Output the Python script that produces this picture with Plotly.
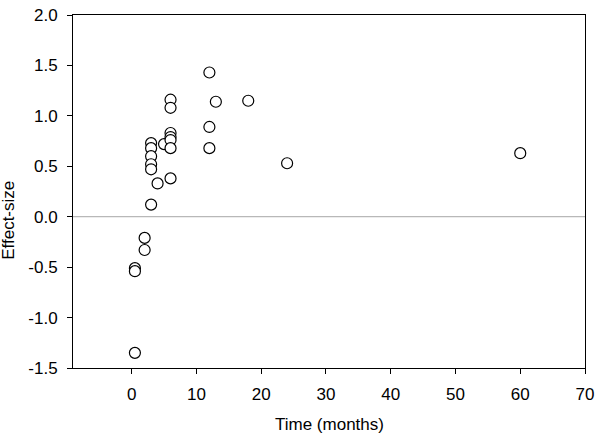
import plotly.graph_objects as go

# Data
time_months = [0.5, 0.5, 0.5, 2, 2,
               3, 3, 3, 3, 3, 3,
               4, 5,
               6, 6, 6, 6, 6, 6, 6,
               12, 12, 12, 13, 18, 24, 60]
effect_size = [-0.51, -0.54, -1.35, -0.21, -0.33,
               0.73, 0.68, 0.60, 0.52, 0.47, 0.12,
               0.33, 0.72,
               1.16, 1.08, 0.83, 0.79, 0.76, 0.68, 0.38,
               1.43, 0.89, 0.68, 1.14, 1.15, 0.53, 0.63]

x_ticks = [0, 10, 20, 30, 40, 50, 60, 70]
y_ticks = [-1.5, -1.0, -0.5, 0.0, 0.5, 1.0, 1.5, 2.0]
y_tick_labels = ["-1.5", "-1.0", "-0.5", "0.0", "0.5", "1.0", "1.5", "2.0"]
x_title = "Time (months)"
y_title = "Effect-size"

font_family = "Liberation Sans, Arial, sans-serif"

fig = go.Figure()
fig.add_trace(go.Scatter(
    x=time_months, y=effect_size, mode="markers",
    marker=dict(symbol="circle", size=11, color="white",
                line=dict(color="black", width=1.2)),
    showlegend=False, hoverinfo="x+y",
))

fig.add_shape(type="line", xref="paper", x0=0, x1=1, yref="y", y0=0, y1=0,
              line=dict(color="#a6a6a6", width=1), layer="below")

fig.update_layout(
    width=600, height=434,
    margin=dict(l=73, r=10, t=6, b=66),
    paper_bgcolor="white", plot_bgcolor="white",
    font=dict(family=font_family, size=17, color="black"),
    annotations=[
        dict(text=x_title, xref="paper", yref="paper", x=0.5, y=-0.160,
             xanchor="center", yanchor="middle", showarrow=False,
             font=dict(size=17)),
        dict(text=y_title, xref="paper", yref="paper", x=-0.125, y=0.417,
             xanchor="center", yanchor="middle", textangle=-90,
             showarrow=False, font=dict(size=17)),
    ],
)
fig.update_xaxes(
    range=[-9.06, 70], tickvals=x_ticks, ticks="outside", ticklen=5,
    tickcolor="black", showline=True, linecolor="black", linewidth=1,
    mirror=True, showgrid=False, zeroline=False,
    ticklabeloverflow="allow", ticklabelstandoff=6,
    tickfont=dict(size=17),
)
fig.update_yaxes(
    range=[-1.5, 2.0], tickvals=y_ticks, ticktext=y_tick_labels,
    ticks="outside",
    ticklen=5, tickcolor="black", showline=True, linecolor="black",
    linewidth=1, mirror=True, showgrid=False, zeroline=False,
    ticklabeloverflow="allow", ticklabelstandoff=6,
    tickfont=dict(size=17),
)

fig.write_html(
    "out.html",
    config={"displayModeBar": False},
    post_script="document.body.style.margin='0';document.body.style.overflow='hidden';",
)
